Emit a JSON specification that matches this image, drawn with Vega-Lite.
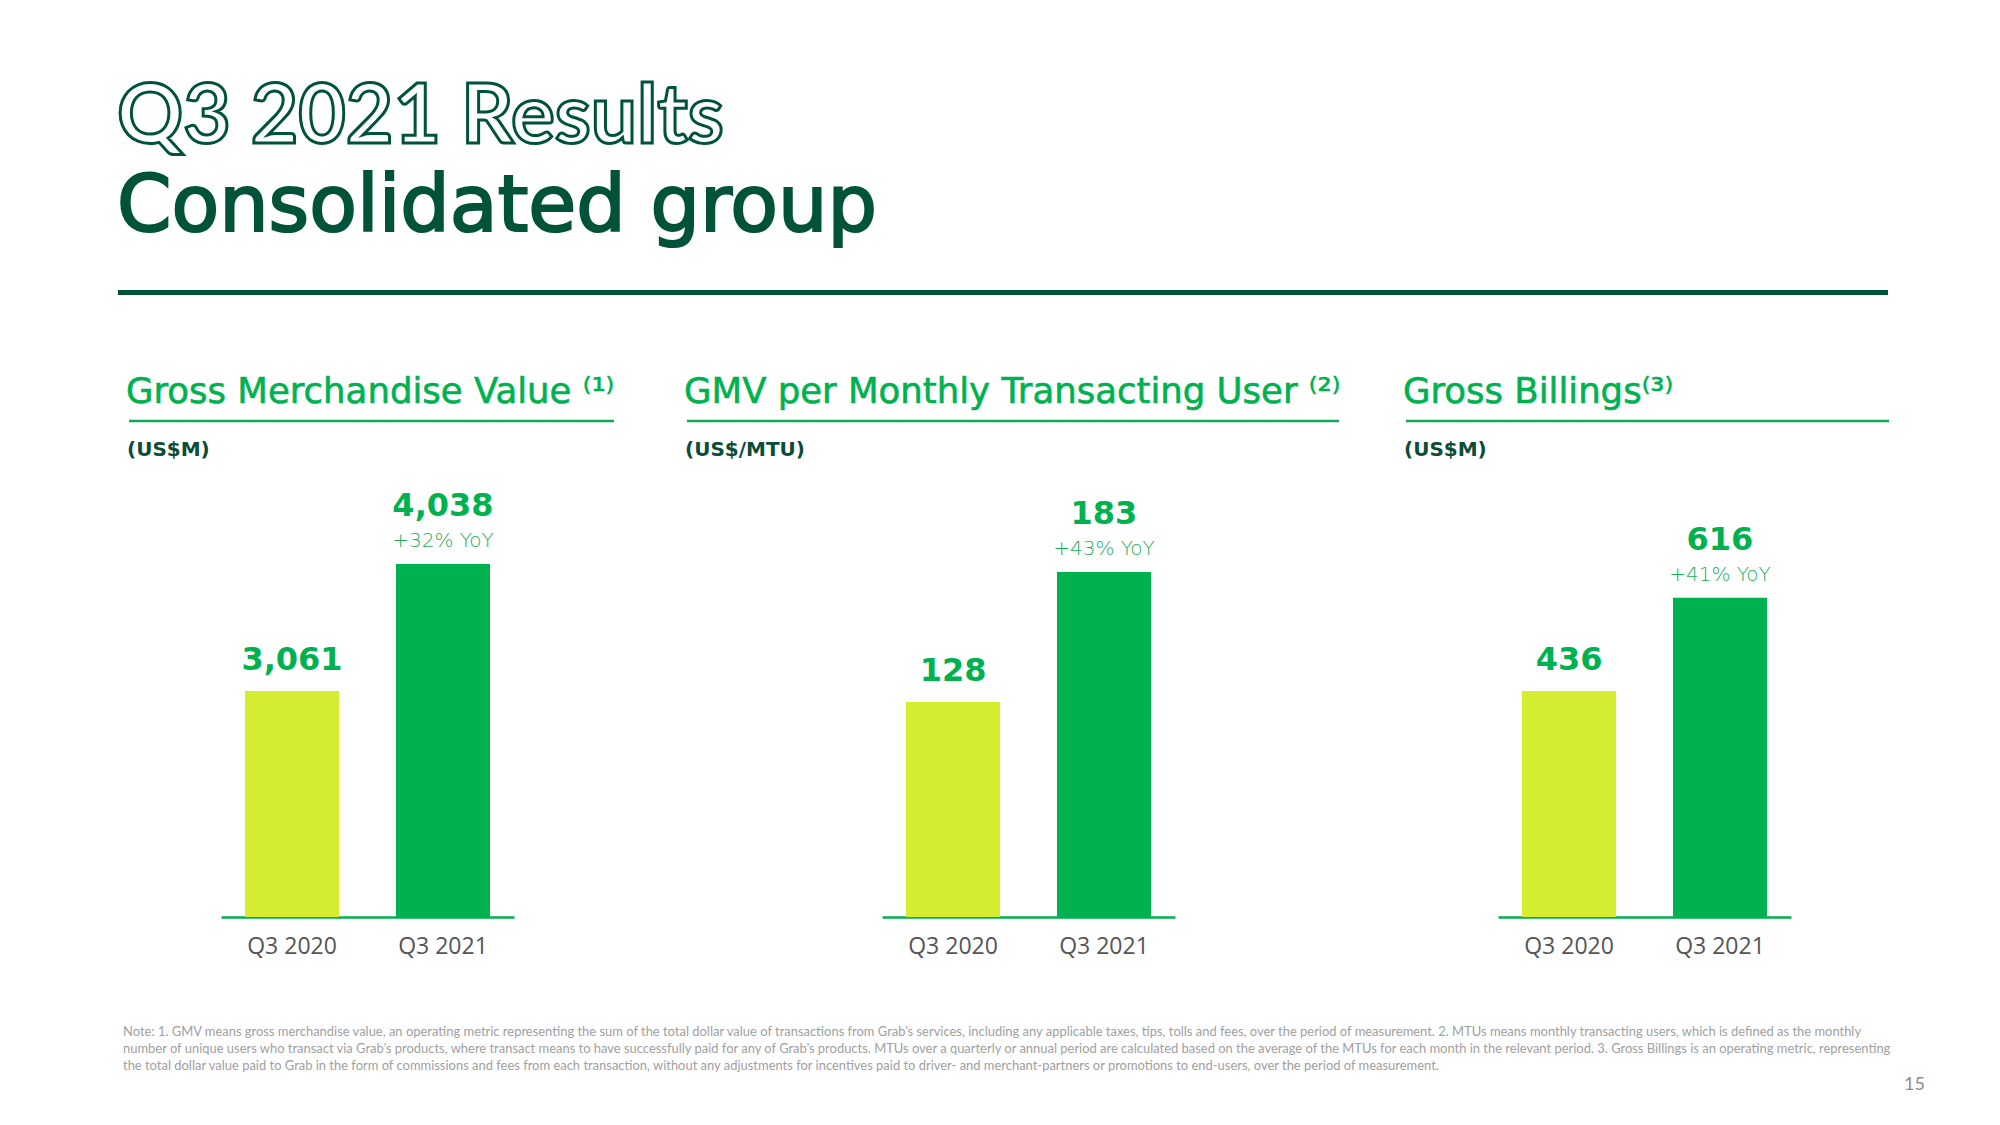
{
  "$schema": "https://vega.github.io/schema/vega-lite/v6.json",
  "background": "#ffffff",
  "padding": {"left": 115, "top": 0, "right": 0, "bottom": 0},
  "bounds": "flush",
  "spacing": 0,
  "datasets": {
    "metrics": [
      {"metric": "GMV", "period": "Q3 2020", "value": 3061, "yoy": ""},
      {"metric": "GMV", "period": "Q3 2021", "value": 4038, "yoy": "+32% YoY"},
      {"metric": "GMV per MTU", "period": "Q3 2020", "value": 128, "yoy": ""},
      {"metric": "GMV per MTU", "period": "Q3 2021", "value": 183, "yoy": "+43% YoY"},
      {"metric": "Gross Billings", "period": "Q3 2020", "value": 436, "yoy": ""},
      {"metric": "Gross Billings", "period": "Q3 2021", "value": 616, "yoy": "+41% YoY"}
    ],
    "panels": [
      {"metric": "GMV", "title": "Gross Merchandise Value ⁽¹⁾", "unit": "(US$M)"},
      {"metric": "GMV per MTU", "title": "GMV per Monthly Transacting User ⁽²⁾", "unit": "(US$/MTU)"},
      {"metric": "Gross Billings", "title": "Gross Billings⁽³⁾", "unit": "(US$M)"}
    ],
    "header": [{"title": "Q3 2021 Results", "subtitle": "Consolidated group"}],
    "notes": [{"note": ["Note: 1. GMV means gross merchandise value, an operating metric representing the sum of the total dollar value of transactions from Grab’s services, including any applicable taxes, tips, tolls and fees, over the period of measurement. 2. MTUs means monthly transacting users, which is defined as the monthly", "number of unique users who transact via Grab’s products, where transact means to have successfully paid for any of Grab’s products. MTUs over a quarterly or annual period are calculated based on the average of the MTUs for each month in the relevant period. 3. Gross Billings is an operating metric, representing", "the total dollar value paid to Grab in the form of commissions and fees from each transaction, without any adjustments for incentives paid to driver- and merchant-partners or promotions to end-users, over the period of measurement."], "page": "15"}]
  },
  "vconcat": [
    {
      "width": 1770,
      "height": 421,
      "data": {"name": "header"},
      "layer": [
        {"mark": {"type": "text", "align": "left", "baseline": "alphabetic", "font": "Lato", "fontSize": 82, "fontWeight": "bold", "fill": "#ffffff", "stroke": "#005339", "strokeWidth": 3},
         "encoding": {"x": {"value": -1}, "y": {"value": 143}, "text": {"field": "title"}}},
        {"mark": {"type": "text", "align": "left", "baseline": "alphabetic", "font": "DejaVu Sans", "fontSize": 78, "fontWeight": "normal", "color": "#005339", "stroke": "#005339", "strokeWidth": 2.2},
         "encoding": {"x": {"value": -1}, "y": {"value": 231}, "text": {"field": "subtitle"}}},
        {"mark": {"type": "rule", "color": "#005339", "strokeWidth": 5},
         "encoding": {"x": {"value": 0}, "x2": {"value": 1770}, "y": {"value": 292.5}}}
      ]
    },
    {
      "hconcat": [
        {
          "width": 496, "height": 496,
          "layer": [
            {"data": {"name": "metrics"}, "transform": [{"filter": "datum.metric == 'GMV'"}],
             "mark": {"type": "bar"},
             "encoding": {
               "x": {"field": "period", "type": "nominal", "scale": {"domain": ["Q3 2020", "Q3 2021"], "range": [103, 396], "paddingInner": 0.377, "paddingOuter": 0.159}, "axis": {"title": null, "ticks": false, "domainColor": "#00b14f", "domainWidth": 2.5, "labelFont": "Open Sans", "labelFontSize": 23, "labelColor": "#555555", "labelPadding": 18, "labelAngle": 0}},
               "y": {"field": "value", "type": "quantitative", "scale": {"domain": [1322, 5138], "zero": false, "nice": false}, "axis": null},
               "y2": {"datum": 1322},
               "color": {"field": "period", "type": "nominal", "scale": {"domain": ["Q3 2020", "Q3 2021"], "range": ["#d4ed31", "#00b14f"]}, "legend": null}
             }},
            {"data": {"name": "metrics"}, "transform": [{"filter": "datum.metric == 'GMV' && datum.period == 'Q3 2020'"}],
             "mark": {"type": "text", "baseline": "alphabetic", "dy": -21, "font": "DejaVu Sans", "fontSize": 32, "fontWeight": "bold", "color": "#00b14f"},
             "encoding": {
               "x": {"field": "period", "type": "nominal", "scale": {"domain": ["Q3 2020", "Q3 2021"], "range": [103, 396], "paddingInner": 0.377, "paddingOuter": 0.159}, "axis": {"title": null, "ticks": false, "domainColor": "#00b14f", "domainWidth": 2.5, "labelFont": "Open Sans", "labelFontSize": 23, "labelColor": "#555555", "labelPadding": 18, "labelAngle": 0}},
               "y": {"field": "value", "type": "quantitative", "scale": {"domain": [1322, 5138], "zero": false, "nice": false}, "axis": null},
               "text": {"field": "value", "type": "quantitative", "format": ","}
             }},
            {"data": {"name": "metrics"}, "transform": [{"filter": "datum.metric == 'GMV' && datum.period == 'Q3 2021'"}],
             "mark": {"type": "text", "baseline": "alphabetic", "dy": -48, "font": "DejaVu Sans", "fontSize": 32, "fontWeight": "bold", "color": "#00b14f"},
             "encoding": {
               "x": {"field": "period", "type": "nominal", "scale": {"domain": ["Q3 2020", "Q3 2021"], "range": [103, 396], "paddingInner": 0.377, "paddingOuter": 0.159}, "axis": {"title": null, "ticks": false, "domainColor": "#00b14f", "domainWidth": 2.5, "labelFont": "Open Sans", "labelFontSize": 23, "labelColor": "#555555", "labelPadding": 18, "labelAngle": 0}},
               "y": {"field": "value", "type": "quantitative", "scale": {"domain": [1322, 5138], "zero": false, "nice": false}, "axis": null},
               "text": {"field": "value", "type": "quantitative", "format": ","}
             }},
            {"data": {"name": "metrics"}, "transform": [{"filter": "datum.metric == 'GMV' && datum.yoy != ''"}],
             "mark": {"type": "text", "baseline": "alphabetic", "dy": -17, "font": "DejaVu Sans", "fontSize": 20, "fontWeight": 200, "color": "#1aae5a"},
             "encoding": {
               "x": {"field": "period", "type": "nominal", "scale": {"domain": ["Q3 2020", "Q3 2021"], "range": [103, 396], "paddingInner": 0.377, "paddingOuter": 0.159}, "axis": {"title": null, "ticks": false, "domainColor": "#00b14f", "domainWidth": 2.5, "labelFont": "Open Sans", "labelFontSize": 23, "labelColor": "#555555", "labelPadding": 18, "labelAngle": 0}},
               "y": {"field": "value", "type": "quantitative", "scale": {"domain": [1322, 5138], "zero": false, "nice": false}, "axis": null},
               "text": {"field": "yoy"}
             }},
            {"data": {"name": "panels"}, "transform": [{"filter": "datum.metric == 'GMV'"}],
             "mark": {"type": "text", "align": "left", "baseline": "alphabetic", "font": "DejaVu Sans", "fontSize": 35.5, "fontWeight": "normal", "color": "#00b14f", "stroke": "#00b14f", "strokeWidth": 0.6},
             "encoding": {"x": {"value": 8}, "y": {"value": -18}, "text": {"field": "title"}}},
            {"data": {"name": "panels"}, "transform": [{"filter": "datum.metric == 'GMV'"}],
             "mark": {"type": "rule", "color": "#13a85b", "strokeWidth": 2.5},
             "encoding": {"x": {"value": 11}, "x2": {"value": 496}, "y": {"value": 0}}},
            {"data": {"name": "panels"}, "transform": [{"filter": "datum.metric == 'GMV'"}],
             "mark": {"type": "text", "align": "left", "baseline": "alphabetic", "font": "DejaVu Sans", "fontSize": 20, "fontWeight": "bold", "color": "#0b4d38"},
             "encoding": {"x": {"value": 9}, "y": {"value": 35}, "text": {"field": "unit"}}},
            {"data": {"name": "notes"},
             "mark": {"type": "text", "align": "left", "baseline": "alphabetic", "font": "Lato", "fontSize": 12.95, "lineHeight": 17, "color": "#a0a0a0"},
             "encoding": {"x": {"value": 5}, "y": {"value": 615}, "text": {"field": "note"}}},
            {"data": {"name": "notes"},
             "mark": {"type": "text", "align": "right", "baseline": "alphabetic", "font": "Lato", "fontSize": 18, "color": "#8c8c8c"},
             "encoding": {"x": {"value": 1807}, "y": {"value": 669}, "text": {"field": "page"}}}
          ]
        },
        {
          "width": 652, "height": 496,
          "layer": [
            {"data": {"name": "metrics"}, "transform": [{"filter": "datum.metric == 'GMV per MTU'"}],
             "mark": {"type": "bar"},
             "encoding": {
               "x": {"field": "period", "type": "nominal", "scale": {"domain": ["Q3 2020", "Q3 2021"], "range": [195, 488], "paddingInner": 0.377, "paddingOuter": 0.159}, "axis": {"title": null, "ticks": false, "domainColor": "#00b14f", "domainWidth": 2.5, "labelFont": "Open Sans", "labelFontSize": 23, "labelColor": "#555555", "labelPadding": 18, "labelAngle": 0}},
               "y": {"field": "value", "type": "quantitative", "scale": {"domain": [37, 246.9], "zero": false, "nice": false}, "axis": null},
               "y2": {"datum": 37},
               "color": {"field": "period", "type": "nominal", "scale": {"domain": ["Q3 2020", "Q3 2021"], "range": ["#d4ed31", "#00b14f"]}, "legend": null}
             }},
            {"data": {"name": "metrics"}, "transform": [{"filter": "datum.metric == 'GMV per MTU' && datum.period == 'Q3 2020'"}],
             "mark": {"type": "text", "baseline": "alphabetic", "dy": -21, "font": "DejaVu Sans", "fontSize": 32, "fontWeight": "bold", "color": "#00b14f"},
             "encoding": {
               "x": {"field": "period", "type": "nominal", "scale": {"domain": ["Q3 2020", "Q3 2021"], "range": [195, 488], "paddingInner": 0.377, "paddingOuter": 0.159}, "axis": {"title": null, "ticks": false, "domainColor": "#00b14f", "domainWidth": 2.5, "labelFont": "Open Sans", "labelFontSize": 23, "labelColor": "#555555", "labelPadding": 18, "labelAngle": 0}},
               "y": {"field": "value", "type": "quantitative", "scale": {"domain": [37, 246.9], "zero": false, "nice": false}, "axis": null},
               "text": {"field": "value", "type": "quantitative", "format": ","}
             }},
            {"data": {"name": "metrics"}, "transform": [{"filter": "datum.metric == 'GMV per MTU' && datum.period == 'Q3 2021'"}],
             "mark": {"type": "text", "baseline": "alphabetic", "dy": -48, "font": "DejaVu Sans", "fontSize": 32, "fontWeight": "bold", "color": "#00b14f"},
             "encoding": {
               "x": {"field": "period", "type": "nominal", "scale": {"domain": ["Q3 2020", "Q3 2021"], "range": [195, 488], "paddingInner": 0.377, "paddingOuter": 0.159}, "axis": {"title": null, "ticks": false, "domainColor": "#00b14f", "domainWidth": 2.5, "labelFont": "Open Sans", "labelFontSize": 23, "labelColor": "#555555", "labelPadding": 18, "labelAngle": 0}},
               "y": {"field": "value", "type": "quantitative", "scale": {"domain": [37, 246.9], "zero": false, "nice": false}, "axis": null},
               "text": {"field": "value", "type": "quantitative", "format": ","}
             }},
            {"data": {"name": "metrics"}, "transform": [{"filter": "datum.metric == 'GMV per MTU' && datum.yoy != ''"}],
             "mark": {"type": "text", "baseline": "alphabetic", "dy": -17, "font": "DejaVu Sans", "fontSize": 20, "fontWeight": 200, "color": "#1aae5a"},
             "encoding": {
               "x": {"field": "period", "type": "nominal", "scale": {"domain": ["Q3 2020", "Q3 2021"], "range": [195, 488], "paddingInner": 0.377, "paddingOuter": 0.159}, "axis": {"title": null, "ticks": false, "domainColor": "#00b14f", "domainWidth": 2.5, "labelFont": "Open Sans", "labelFontSize": 23, "labelColor": "#555555", "labelPadding": 18, "labelAngle": 0}},
               "y": {"field": "value", "type": "quantitative", "scale": {"domain": [37, 246.9], "zero": false, "nice": false}, "axis": null},
               "text": {"field": "yoy"}
             }},
            {"data": {"name": "panels"}, "transform": [{"filter": "datum.metric == 'GMV per MTU'"}],
             "mark": {"type": "text", "align": "left", "baseline": "alphabetic", "font": "DejaVu Sans", "fontSize": 35.5, "fontWeight": "normal", "color": "#00b14f", "stroke": "#00b14f", "strokeWidth": 0.6},
             "encoding": {"x": {"value": -3}, "y": {"value": -18}, "text": {"field": "title"}}},
            {"data": {"name": "panels"}, "transform": [{"filter": "datum.metric == 'GMV per MTU'"}],
             "mark": {"type": "rule", "color": "#13a85b", "strokeWidth": 2.5},
             "encoding": {"x": {"value": 0}, "x2": {"value": 652}, "y": {"value": 0}}},
            {"data": {"name": "panels"}, "transform": [{"filter": "datum.metric == 'GMV per MTU'"}],
             "mark": {"type": "text", "align": "left", "baseline": "alphabetic", "font": "DejaVu Sans", "fontSize": 20, "fontWeight": "bold", "color": "#0b4d38"},
             "encoding": {"x": {"value": -2}, "y": {"value": 35}, "text": {"field": "unit"}}}
          ]
        },
        {
          "width": 477, "height": 496,
          "layer": [
            {"data": {"name": "metrics"}, "transform": [{"filter": "datum.metric == 'Gross Billings'"}],
             "mark": {"type": "bar"},
             "encoding": {
               "x": {"field": "period", "type": "nominal", "scale": {"domain": ["Q3 2020", "Q3 2021"], "range": [86, 379], "paddingInner": 0.377, "paddingOuter": 0.159}, "axis": {"title": null, "ticks": false, "domainColor": "#00b14f", "domainWidth": 2.5, "labelFont": "Open Sans", "labelFontSize": 23, "labelColor": "#555555", "labelPadding": 18, "labelAngle": 0}},
               "y": {"field": "value", "type": "quantitative", "scale": {"domain": [0, 957], "zero": false, "nice": false}, "axis": null},
               "y2": {"datum": 0},
               "color": {"field": "period", "type": "nominal", "scale": {"domain": ["Q3 2020", "Q3 2021"], "range": ["#d4ed31", "#00b14f"]}, "legend": null}
             }},
            {"data": {"name": "metrics"}, "transform": [{"filter": "datum.metric == 'Gross Billings' && datum.period == 'Q3 2020'"}],
             "mark": {"type": "text", "baseline": "alphabetic", "dy": -21, "font": "DejaVu Sans", "fontSize": 32, "fontWeight": "bold", "color": "#00b14f"},
             "encoding": {
               "x": {"field": "period", "type": "nominal", "scale": {"domain": ["Q3 2020", "Q3 2021"], "range": [86, 379], "paddingInner": 0.377, "paddingOuter": 0.159}, "axis": {"title": null, "ticks": false, "domainColor": "#00b14f", "domainWidth": 2.5, "labelFont": "Open Sans", "labelFontSize": 23, "labelColor": "#555555", "labelPadding": 18, "labelAngle": 0}},
               "y": {"field": "value", "type": "quantitative", "scale": {"domain": [0, 957], "zero": false, "nice": false}, "axis": null},
               "text": {"field": "value", "type": "quantitative", "format": ","}
             }},
            {"data": {"name": "metrics"}, "transform": [{"filter": "datum.metric == 'Gross Billings' && datum.period == 'Q3 2021'"}],
             "mark": {"type": "text", "baseline": "alphabetic", "dy": -48, "font": "DejaVu Sans", "fontSize": 32, "fontWeight": "bold", "color": "#00b14f"},
             "encoding": {
               "x": {"field": "period", "type": "nominal", "scale": {"domain": ["Q3 2020", "Q3 2021"], "range": [86, 379], "paddingInner": 0.377, "paddingOuter": 0.159}, "axis": {"title": null, "ticks": false, "domainColor": "#00b14f", "domainWidth": 2.5, "labelFont": "Open Sans", "labelFontSize": 23, "labelColor": "#555555", "labelPadding": 18, "labelAngle": 0}},
               "y": {"field": "value", "type": "quantitative", "scale": {"domain": [0, 957], "zero": false, "nice": false}, "axis": null},
               "text": {"field": "value", "type": "quantitative", "format": ","}
             }},
            {"data": {"name": "metrics"}, "transform": [{"filter": "datum.metric == 'Gross Billings' && datum.yoy != ''"}],
             "mark": {"type": "text", "baseline": "alphabetic", "dy": -17, "font": "DejaVu Sans", "fontSize": 20, "fontWeight": 200, "color": "#1aae5a"},
             "encoding": {
               "x": {"field": "period", "type": "nominal", "scale": {"domain": ["Q3 2020", "Q3 2021"], "range": [86, 379], "paddingInner": 0.377, "paddingOuter": 0.159}, "axis": {"title": null, "ticks": false, "domainColor": "#00b14f", "domainWidth": 2.5, "labelFont": "Open Sans", "labelFontSize": 23, "labelColor": "#555555", "labelPadding": 18, "labelAngle": 0}},
               "y": {"field": "value", "type": "quantitative", "scale": {"domain": [0, 957], "zero": false, "nice": false}, "axis": null},
               "text": {"field": "yoy"}
             }},
            {"data": {"name": "panels"}, "transform": [{"filter": "datum.metric == 'Gross Billings'"}],
             "mark": {"type": "text", "align": "left", "baseline": "alphabetic", "font": "DejaVu Sans", "fontSize": 35.5, "fontWeight": "normal", "color": "#00b14f", "stroke": "#00b14f", "strokeWidth": 0.6},
             "encoding": {"x": {"value": -9}, "y": {"value": -18}, "text": {"field": "title"}}},
            {"data": {"name": "panels"}, "transform": [{"filter": "datum.metric == 'Gross Billings'"}],
             "mark": {"type": "rule", "color": "#13a85b", "strokeWidth": 2.5},
             "encoding": {"x": {"value": -6}, "x2": {"value": 477}, "y": {"value": 0}}},
            {"data": {"name": "panels"}, "transform": [{"filter": "datum.metric == 'Gross Billings'"}],
             "mark": {"type": "text", "align": "left", "baseline": "alphabetic", "font": "DejaVu Sans", "fontSize": 20, "fontWeight": "bold", "color": "#0b4d38"},
             "encoding": {"x": {"value": -8}, "y": {"value": 35}, "text": {"field": "unit"}}}
          ]
        }
      ],
      "spacing": 73,
      "bounds": "flush",
      "resolve": {"scale": {"x": "independent", "y": "independent"}}
    }
  ],
  "config": {"view": {"stroke": null}, "font": "Lato"}
}
